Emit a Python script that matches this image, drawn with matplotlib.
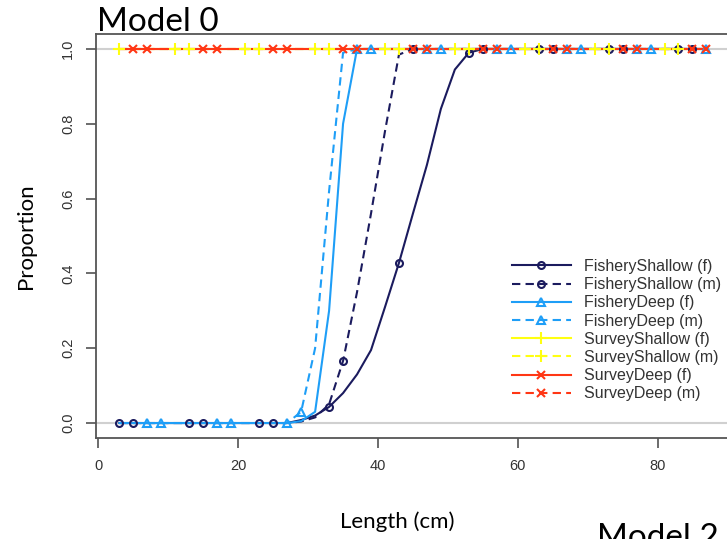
import matplotlib
matplotlib.use("Agg")
import matplotlib.pyplot as plt

# length bins (cm)
lengths = [3, 5, 7, 9, 11, 13, 15, 17, 19, 21, 23, 25, 27, 29, 31, 33, 35, 37, 39, 41, 43, 45,
           47, 49, 51, 53, 55, 57, 59, 61, 63, 65, 67, 69, 71, 73, 75, 77, 79, 81, 83, 85, 87]

# selectivity by fleet and sex
fishery_shallow_f = [0, 0, 0, 0, 0, 0, 0, 0, 0, 0, 0, 0, 0,
                     0.008, 0.02, 0.043, 0.08, 0.13, 0.195, 0.31, 0.428, 0.56, 0.69, 0.84, 0.945, 0.99,
                     1, 1, 1, 1, 1, 1, 1, 1, 1, 1, 1, 1, 1, 1, 1, 1, 1]
fishery_shallow_m = [0, 0, 0, 0, 0, 0, 0, 0, 0, 0, 0, 0, 0,
                     0.004, 0.015, 0.05, 0.166, 0.35, 0.56, 0.78, 0.985,
                     1, 1, 1, 1, 1, 1, 1, 1, 1, 1, 1, 1, 1, 1, 1, 1, 1, 1, 1, 1, 1, 1]
fishery_deep_f = [0, 0, 0, 0, 0, 0, 0, 0, 0, 0, 0, 0, 0,
                  0.005, 0.03, 0.3, 0.8,
                  1, 1, 1, 1, 1, 1, 1, 1, 1, 1, 1, 1, 1, 1, 1, 1, 1, 1, 1, 1, 1, 1, 1, 1, 1, 1]
fishery_deep_m = [0, 0, 0, 0, 0, 0, 0, 0, 0, 0, 0, 0, 0,
                  0.03, 0.2, 0.62, 0.99,
                  1, 1, 1, 1, 1, 1, 1, 1, 1, 1, 1, 1, 1, 1, 1, 1, 1, 1, 1, 1, 1, 1, 1, 1, 1, 1]
survey_shallow_f = [1, 1, 1, 1, 1, 1, 1, 1, 1, 1, 1, 1, 1, 1, 1, 1, 1, 1, 1, 1, 1, 1,
                    1, 1, 1, 1, 1, 1, 1, 1, 1, 1, 1, 1, 1, 1, 1, 1, 1, 1, 1, 1, 1]
survey_shallow_m = [1, 1, 1, 1, 1, 1, 1, 1, 1, 1, 1, 1, 1, 1, 1, 1, 1, 1, 1, 1, 1, 1,
                    1, 1, 1, 1, 1, 1, 1, 1, 1, 1, 1, 1, 1, 1, 1, 1, 1, 1, 1, 1, 1]
survey_deep_f = [1, 1, 1, 1, 1, 1, 1, 1, 1, 1, 1, 1, 1, 1, 1, 1, 1, 1, 1, 1, 1, 1,
                 1, 1, 1, 1, 1, 1, 1, 1, 1, 1, 1, 1, 1, 1, 1, 1, 1, 1, 1, 1, 1]
survey_deep_m = [1, 1, 1, 1, 1, 1, 1, 1, 1, 1, 1, 1, 1, 1, 1, 1, 1, 1, 1, 1, 1, 1,
                 1, 1, 1, 1, 1, 1, 1, 1, 1, 1, 1, 1, 1, 1, 1, 1, 1, 1, 1, 1, 1]

labels = ["FisheryShallow (f)", "FisheryShallow (m)", "FisheryDeep (f)", "FisheryDeep (m)",
          "SurveyShallow (f)", "SurveyShallow (m)", "SurveyDeep (f)", "SurveyDeep (m)"]
series = [fishery_shallow_f, fishery_shallow_m, fishery_deep_f, fishery_deep_m,
          survey_shallow_f, survey_shallow_m, survey_deep_f, survey_deep_m]

navy, blue, yellow, red = "#1b1b5e", "#1e9ef7", "#ffff10", "#ff3614"
colors = [navy, navy, blue, blue, yellow, yellow, red, red]
markers = ["o", "o", "^", "^", "+", "+", "x", "x"]
msizes = [5, 5, 6, 6, 8, 8, 6, 6]
styles = ["-", "--"] * 4

fig = plt.figure(figsize=(7.27, 5.39), dpi=100)
ax = fig.add_axes([0.132, 0.1874, 0.872, 0.7495])

ax.axhline(0, color="#d0d0d0", lw=1.5, zorder=1)
ax.axhline(1, color="#d0d0d0", lw=1.5, zorder=1)

handles = []
for i, (y, lab) in enumerate(zip(series, labels)):
    ls = styles[i]
    dash = dict(dashes=(4, 2.5)) if ls == "--" else {}
    mk = dict(marker=markers[i], ms=msizes[i], mfc="none", mec=colors[i], mew=1.5)
    ax.plot(lengths, y, color=colors[i], ls=ls, lw=1.5, zorder=2, **dash)
    # points every 5th bin, offset per series
    ax.plot(lengths, y, ls="none", markevery=(i % 5, 5), zorder=3, **mk)
    h, = ax.plot([], [], color=colors[i], ls=ls, lw=1.5, **mk, **dash)
    handles.append(h)

ax.set_xlim(-0.36, 90.36)
ax.set_ylim(-0.04, 1.04)
ax.set_xticks([0, 20, 40, 60, 80])
ax.set_yticks([0.0, 0.2, 0.4, 0.6, 0.8, 1.0])
ax.set_yticklabels(["0.0", "0.2", "0.4", "0.6", "0.8", "1.0"], rotation=90, va="center")

for t in ax.get_xticklabels() + ax.get_yticklabels():
    t.set_fontfamily("Liberation Sans")
    t.set_fontsize(10.5)
    t.set_color("#333333")
ax.tick_params(direction="out", length=7, width=1.1, color="#444444", pad=8)

for sp in ax.spines.values():
    sp.set_color("#555555")
    sp.set_linewidth(1.3)

leg = ax.legend(handles, labels, loc="upper left", bbox_to_anchor=(0.646, 0.459),
                frameon=False, handlelength=3.7, handletextpad=0.8, labelspacing=0.2,
                prop={"family": "Liberation Sans", "size": 11.5}, borderaxespad=0)
for t in leg.get_texts():
    t.set_color("#333333")

fig.text(0.133, 0.9425, "Model 0", family="Lato", size=24, ha="left", va="baseline")
fig.text(0.036, 0.562, "Proportion", family="Lato", size=16, rotation=90, ha="center", va="center")
fig.text(0.546, 0.032, "Length (cm)", family="Lato", size=16, ha="center", va="center")
fig.text(0.821, -0.015, "Model 2", family="Lato", size=24, ha="left", va="baseline")

fig.savefig("out.png", dpi=100)
